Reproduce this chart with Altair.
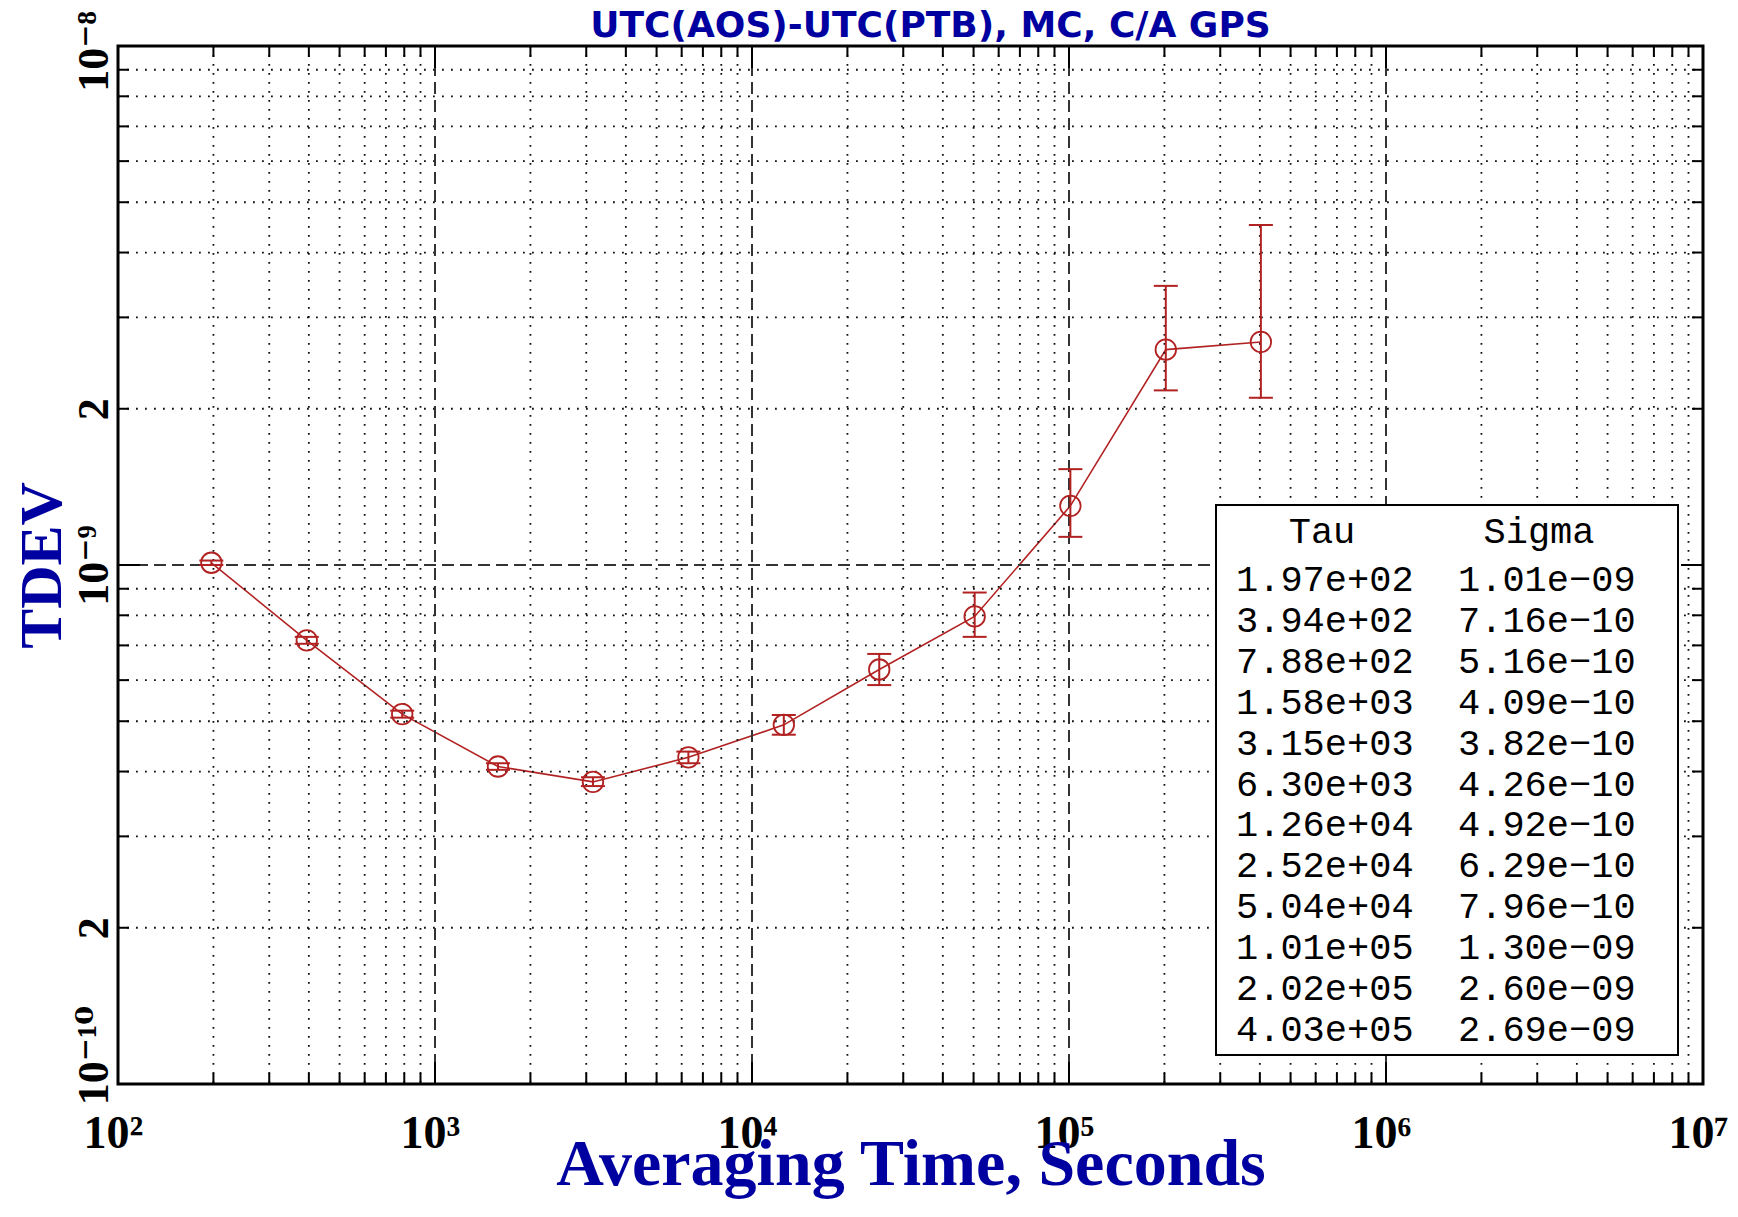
import altair as alt
import pandas as pd

# ---------------- data ----------------
TAU = [197, 394, 788, 1580, 3150, 6300, 12600, 25200, 50400, 101000, 202000, 403000]
SIGMA = [1.01e-9, 7.16e-10, 5.16e-10, 4.09e-10, 3.82e-10, 4.26e-10,
         4.92e-10, 6.29e-10, 7.96e-10, 1.30e-9, 2.60e-9, 2.69e-9]
SIGMA_LO = [1.00e-9, 7.05e-10, 5.08e-10, 4.03e-10, 3.75e-10, 4.15e-10,
            4.71e-10, 5.87e-10, 7.27e-10, 1.133e-9, 2.17e-9, 2.10e-9]
SIGMA_HI = [1.02e-9, 7.27e-10, 5.24e-10, 4.15e-10, 3.90e-10, 4.37e-10,
            5.14e-10, 6.74e-10, 8.85e-10, 1.53e-9, 3.45e-9, 4.52e-9]

TITLE = "UTC(AOS)-UTC(PTB), MC, C/A GPS"
X_TITLE = "Averaging Time, Seconds"
Y_TITLE = "TDEV"
TABLE_HEAD = ["Tau", "Sigma"]

X_TICKS = [1e2, 1e3, 1e4, 1e5, 1e6, 1e7]
X_LABELS = ["10²", "10³", "10⁴", "10⁵", "10⁶", "10⁷"]
Y_TICKS = [1e-10, 2e-10, 1e-9, 2e-9, 1e-8]
Y_LABELS = ["10⁻¹⁰", "2", "10⁻⁹", "2", "10⁻⁸"]

X_DECADES = [1e2, 1e3, 1e4, 1e5, 1e6]
Y_DECADES = [1e-10, 1e-9]
MINOR_MULTS = [2, 3, 4, 5, 6, 7, 8, 9]
X_MAJOR_GRID = [1e3, 1e4, 1e5, 1e6]
Y_MAJOR_GRID = [1e-9]

# ---------------- styling ----------------
W, H = 1585, 1038
RED = "#B22222"
BLUE = "#0000A0"
SERIF = "Liberation Serif, DejaVu Serif, serif"
MONO = "Liberation Mono, DejaVu Sans Mono, monospace"

xs = alt.Scale(type="log", domain=[1e2, 1e7], nice=False)
ys = alt.Scale(type="log", domain=[1e-10, 1e-8], nice=False)

minor_x = [m * d for d in X_DECADES for m in MINOR_MULTS]
minor_y = [m * d for d in Y_DECADES for m in MINOR_MULTS]


def label_expr(vals, labs):
    parts = [f"abs(datum.value/{v} - 1) < 0.01 ? '{l}'" for v, l in zip(vals, labs)]
    return " : ".join(parts) + " : ''"


xaxis = alt.Axis(values=X_TICKS, labelExpr=label_expr(X_TICKS, X_LABELS),
                 grid=False, ticks=False, tickSize=0, domain=False,
                 labelFont=SERIF, labelFontWeight="bold", labelFontSize=46,
                 labelColor="black", labelPadding=27, labelOffset=-5,
                 labelFlush=False, labelOverlap=False, labelBound=False,
                 title=X_TITLE, titleFont=SERIF, titleFontWeight="bold",
                 titleFontSize=66, titleColor=BLUE, titleY=100,
                 titleBaseline="alphabetic", titleX=W / 2, titleAlign="center")
yaxis = alt.Axis(values=Y_TICKS, labelExpr=label_expr(Y_TICKS, Y_LABELS),
                 grid=False, ticks=False, tickSize=0, domain=False,
                 labelFont=SERIF, labelFontWeight="bold", labelFontSize=44,
                 labelColor="black", labelPadding=11, labelAngle=270,
                 labelAlign="center", labelBaseline="alphabetic",
                 labelOffset={"condition": [
                     {"test": "datum.value < 1.5e-10", "value": -29},
                     {"test": "datum.value > 5e-9", "value": 5}],
                     "value": 0},
                 labelFlush=False, labelOverlap=False, labelBound=False,
                 title=Y_TITLE, titleFont=SERIF, titleFontWeight="bold",
                 titleFontSize=60, titleColor=BLUE, titleAngle=270,
                 titleX=-58, titleY=H / 2, titleAlign="center",
                 titleBaseline="alphabetic")


def X(f):
    return alt.X(f, scale=xs, axis=xaxis)


def Y(f):
    return alt.Y(f, scale=ys, axis=yaxis)


df = pd.DataFrame({"tau": TAU, "sigma": SIGMA, "lo": SIGMA_LO, "hi": SIGMA_HI})
dmx = pd.DataFrame({"v": minor_x})
dmy = pd.DataFrame({"v": minor_y})
dMx = pd.DataFrame({"v": X_MAJOR_GRID})
dMy = pd.DataFrame({"v": Y_MAJOR_GRID})

dot = dict(color="#111111", strokeWidth=1.8, strokeDash=[1.8, 7.2])
dash = dict(color="#333333", strokeWidth=2, strokeDash=[12, 6])

gx_minor = alt.Chart(dmx).mark_rule(**dot).encode(
    x=X("v:Q"), y=alt.value(0), y2=alt.value(H))
gy_minor = alt.Chart(dmy).mark_rule(**dot).encode(
    y=Y("v:Q"), x=alt.value(0), x2=alt.value(W))
gx_major = alt.Chart(dMx).mark_rule(**dash).encode(
    x=X("v:Q"), y=alt.value(0), y2=alt.value(H))
gy_major = alt.Chart(dMy).mark_rule(**dash).encode(
    y=Y("v:Q"), x=alt.value(0), x2=alt.value(W))


# inward ticks on all four sides
def xticks(data, L):
    b = alt.Chart(data).mark_rule(color="black", strokeWidth=2).encode(
        x=X("v:Q"), y=alt.value(H), y2=alt.value(H - L))
    t = alt.Chart(data).mark_rule(color="black", strokeWidth=2).encode(
        x=X("v:Q"), y=alt.value(0), y2=alt.value(L))
    return [b, t]


def yticks(data, L):
    l = alt.Chart(data).mark_rule(color="black", strokeWidth=2).encode(
        y=Y("v:Q"), x=alt.value(0), x2=alt.value(L))
    r = alt.Chart(data).mark_rule(color="black", strokeWidth=2).encode(
        y=Y("v:Q"), x=alt.value(W), x2=alt.value(W - L))
    return [l, r]


tick_layers = xticks(dmx, 11) + xticks(dMx, 22) + yticks(dmy, 11) + yticks(dMy, 22)

# legend table box
box = alt.Chart(pd.DataFrame({"a": [0]})).mark_rect(
    fill="white", stroke="black", strokeWidth=2).encode(
    x=alt.value(1098), x2=alt.value(1560), y=alt.value(459), y2=alt.value(1009))

rows = pd.DataFrame({
    "row": list(range(len(TAU))),
    "tau_s": [f"{t:.2e}" for t in TAU],
    "sig_s": [f"{s:.2e}".replace("-", "\u2212") for s in SIGMA],
})
ROW0, ROWH = 534, 40.9
tau_txt = alt.Chart(rows).transform_calculate(
    yp=f"{ROW0} + datum.row * {ROWH}").mark_text(
    font=MONO, fontSize=37, align="left", baseline="middle", color="black").encode(
    x=alt.value(1118), y=alt.Y("yp:Q", scale=None), text="tau_s:N")
sig_txt = alt.Chart(rows).transform_calculate(
    yp=f"{ROW0} + datum.row * {ROWH}").mark_text(
    font=MONO, fontSize=37, align="left", baseline="middle", color="black").encode(
    x=alt.value(1340), y=alt.Y("yp:Q", scale=None), text="sig_s:N")
head = pd.DataFrame({"t": TABLE_HEAD, "xp": [1204, 1421]})
head_txt = alt.Chart(head).mark_text(
    font=MONO, fontSize=37, align="center", baseline="middle", color="black").encode(
    x=alt.X("xp:Q", scale=None), y=alt.value(486), text="t:N")

# chart title as a text mark above the plot
title_txt = alt.Chart(pd.DataFrame({"t": [TITLE]})).mark_text(
    font="DejaVu Sans", fontSize=36, fontWeight="bold", align="center",
    baseline="alphabetic", color=BLUE).encode(
    x=alt.value(W / 2 + 20), y=alt.value(-9), text="t:N")

# data marks
line = alt.Chart(df).mark_line(color=RED, strokeWidth=1.6).encode(
    x=X("tau:Q"), y=Y("sigma:Q"))
ebar = alt.Chart(df).mark_rule(color=RED, strokeWidth=2).encode(
    x=X("tau:Q"), y=Y("lo:Q"), y2="hi:Q")
cap_lo = alt.Chart(df).mark_rule(color=RED, strokeWidth=2, xOffset=-12, x2Offset=12).encode(
    x=X("tau:Q"), x2="tau:Q", y=Y("lo:Q"))
cap_hi = alt.Chart(df).mark_rule(color=RED, strokeWidth=2, xOffset=-12, x2Offset=12).encode(
    x=X("tau:Q"), x2="tau:Q", y=Y("hi:Q"))
pts = alt.Chart(df).mark_point(shape="circle", filled=False, size=420,
                               strokeWidth=1.8, color=RED, opacity=1).encode(
    x=X("tau:Q"), y=Y("sigma:Q"))

chart = alt.layer(
    line, gx_minor, gy_minor, gx_major, gy_major, box, *tick_layers,
    ebar, cap_lo, cap_hi, pts, head_txt, tau_txt, sig_txt, title_txt,
).properties(
    width=W, height=H,
    background="white",
    autosize=alt.AutoSizeParams(type="none"),
    padding={"left": 110, "top": 38, "right": 27, "bottom": 120},
).configure_view(stroke="black", strokeWidth=3)

chart.save("out.html", embed_options={"renderer": "svg", "actions": False})
